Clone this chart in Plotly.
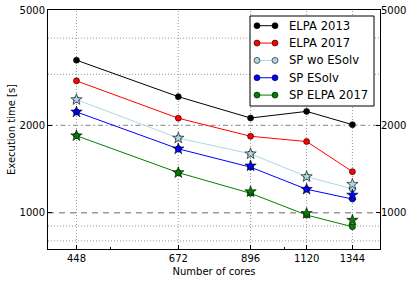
import math
import plotly.graph_objects as go

cores = [448, 672, 896, 1120, 1344]
tick_labels = ["448", "672", "896", "1120", "1344"]

elpa2013 = [3357, 2513, 2121, 2236, 2012]
elpa2017 = [2849, 2118, 1835, 1760, 1386]
sp_wo_esolv = [2455, 1809, 1597, 1332, 1208]
sp_esolv = [2226, 1661, 1436, 1205, 1115]
sp_elpa2017 = [1843, 1375, 1167, 982, 895]

# star markers (second set of measurements)
sp_wo_esolv_star = [2455, 1809, 1597, 1332, 1254]
sp_esolv_star = [2226, 1661, 1451, 1205, 1151]
sp_elpa2017_star = [1843, 1375, 1182, 995, 943]

series_names = ["ELPA 2013", "ELPA 2017", "SP wo ESolv", "SP ESolv", "SP ELPA 2017"]
series_colors = ["#000000", "#ff0000", "#add8e6", "#0000ff", "#008000"]

y_ticks = [1000, 2000, 5000]
y_tick_labels = ["1000", "2000", "5000"]
y_minor = [800, 900, 3000, 4000]
x_minor = [512, 1024]
x_range = [400, 1500]
y_range = [750, 5000]

series_vals = [elpa2013, elpa2017, sp_wo_esolv, sp_esolv, sp_elpa2017]
stars = [
    (sp_wo_esolv_star, "#add8e6"),
    (sp_esolv_star, "#0000ff"),
    (sp_elpa2017_star, "#008000"),
]

W, H = 415, 282
ML, MR, MT, MB = 48, 35, 10, 33
PW, PH = W - ML - MR, H - MT - MB


def px(xp):
    return (xp - ML) / PW


def py(yp):
    return (H - MB - yp) / PH


fig = go.Figure()
for name, vals, col in zip(series_names, series_vals, series_colors):
    fig.add_trace(go.Scatter(
        x=cores, y=vals, name=name, mode="lines+markers", showlegend=False,
        line=dict(color=col, width=1),
        marker=dict(symbol="circle", size=6, color=col,
                    line=dict(color="#000000", width=0.6)),
    ))
for vals, col in stars:
    fig.add_trace(go.Scatter(
        x=cores, y=vals, mode="markers", showlegend=False,
        marker=dict(symbol="star", size=8.5, color=col,
                    line=dict(color="#000000", width=0.6)),
    ))
fig.add_trace(go.Scatter(x=[], y=[], yaxis="y2", showlegend=False))

grid_dot = dict(color="#808080", width=0.8, dash="1px,2px")
shapes = []
for xv in cores:
    shapes.append(dict(type="line", xref="x", yref="paper", x0=xv, x1=xv,
                       y0=0, y1=1, layer="below", line=grid_dot))
for yv in y_minor:
    shapes.append(dict(type="line", xref="paper", yref="y", x0=0, x1=1,
                       y0=yv, y1=yv, layer="below", line=grid_dot))
shapes.append(dict(type="line", xref="paper", yref="y", x0=0, x1=1,
                   y0=1000, y1=1000, layer="below",
                   line=dict(color="#999999", width=1.3, dash="6px,5px")))
shapes.append(dict(type="line", xref="paper", yref="y", x0=0, x1=1,
                   y0=2000, y1=2000, layer="below",
                   line=dict(color="#999999", width=1.3, dash="5px,3px,1.5px,3px")))

# legend drawn in matplotlib style
annotations = []
LX0, LX1, LY0, LY1 = 250, 374, 16, 106
shapes.append(dict(type="rect", xref="paper", yref="paper",
                   x0=px(LX0), x1=px(LX1), y0=py(LY1), y1=py(LY0),
                   line=dict(color="black", width=1), fillcolor="white"))
font = "DejaVu Sans"
for i, (name, col) in enumerate(zip(series_names, series_colors)):
    ry = 25.7 + i * 17.35
    shapes.append(dict(type="line", xref="paper", yref="paper",
                       x0=px(257), x1=px(275), y0=py(ry), y1=py(ry),
                       line=dict(color=col, width=1)))
    for cx in (257, 275):
        shapes.append(dict(type="circle", xref="paper", yref="paper",
                           xsizemode="pixel", ysizemode="pixel",
                           xanchor=px(cx), yanchor=py(ry),
                           x0=-3, x1=3, y0=-3, y1=3,
                           fillcolor=col, line=dict(color="black", width=0.6)))
    annotations.append(dict(xref="paper", yref="paper", x=px(287), y=py(ry),
                            xanchor="left", yanchor="middle", showarrow=False,
                            text=name, font=dict(family=font, size=11.6, color="black")))

axis_common = dict(ticks="inside", ticklen=4, tickcolor="black", showgrid=False,
                   zeroline=False, automargin=False, tickfont=dict(size=10))

fig.update_layout(
    template="none",
    width=W, height=H,
    margin=dict(l=ML, r=MR, t=MT, b=MB),
    paper_bgcolor="white", plot_bgcolor="white",
    font=dict(family=font, size=10, color="black"),
    shapes=shapes,
    annotations=annotations,
    showlegend=False,
    xaxis=dict(type="log", range=[math.log10(x_range[0]), math.log10(x_range[1])],
               tickvals=cores, ticktext=tick_labels,
               showline=True, linecolor="black", linewidth=1, mirror=True,
               minor=dict(tickvals=x_minor, ticks="inside", ticklen=2, tickcolor="black"),
               title=dict(text="Number of cores", standoff=4, font=dict(size=10)),
               **axis_common),
    yaxis=dict(type="log", range=[math.log10(y_range[0]), math.log10(y_range[1])],
               tickvals=y_ticks, ticktext=y_tick_labels,
               showline=True, linecolor="black", linewidth=1, mirror=True,
               title=dict(text="Execution time [s]", standoff=2, font=dict(size=10)),
               **axis_common),
    yaxis2=dict(type="log", range=[math.log10(y_range[0]), math.log10(y_range[1])],
                overlaying="y", side="right", tickvals=y_ticks, ticktext=y_tick_labels,
                showline=False, **axis_common),
)

fig.write_html("out.html", config={"displayModeBar": False},
               post_script="document.body.style.margin='0px';document.body.style.overflow='hidden';")
